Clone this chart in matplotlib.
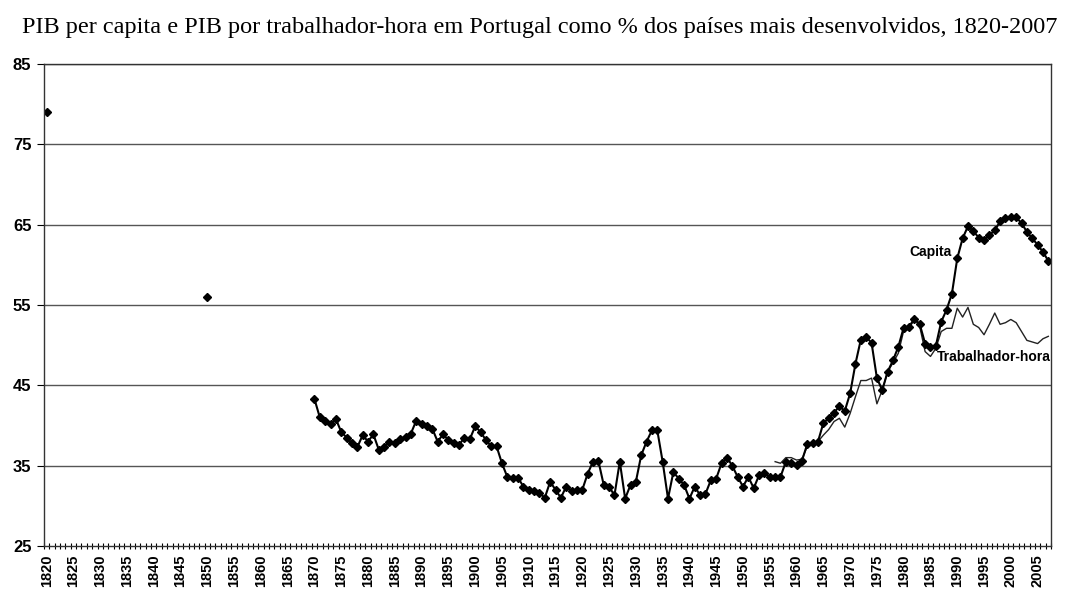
import matplotlib.pyplot as plt
import numpy as np

# anos isolados (pontos soltos no inicio da serie)
anos_isolados = [1820, 1850]
capita_isolados = [79.0, 56.0]

# PIB per capita, 1870-2007 (% dos paises mais desenvolvidos)
capita = [
    43.3, 41.0, 40.5, 40.2, 40.8, 39.2, 38.5, 37.8, 37.3, 38.8,   # 1870
    38.0, 38.9, 37.0, 37.3, 38.0, 37.8, 38.3, 38.6, 39.0, 40.6,   # 1880
    40.2, 40.0, 39.6, 38.0, 38.9, 38.2, 37.8, 37.6, 38.5, 38.3,   # 1890
    39.9, 39.2, 38.2, 37.4, 37.4, 35.3, 33.6, 33.5, 33.5, 32.4,   # 1900
    32.0, 31.9, 31.6, 31.0, 33.0, 32.0, 31.0, 32.4, 31.9, 32.0,   # 1910
    32.0, 34.0, 35.5, 35.6, 32.6, 32.4, 31.3, 35.5, 30.9, 32.6,   # 1920
    33.0, 36.3, 38.0, 39.4, 39.4, 35.5, 30.9, 34.2, 33.4, 32.6,   # 1930
    30.9, 32.4, 31.3, 31.5, 33.2, 33.4, 35.3, 36.0, 35.0, 33.6,   # 1940
    32.4, 33.6, 32.2, 33.8, 34.1, 33.6, 33.6, 33.6, 35.5, 35.3,   # 1950
    35.1, 35.6, 37.7, 37.8, 38.0, 40.3, 40.9, 41.6, 42.4, 41.8,   # 1960
    44.0, 47.7, 50.7, 51.0, 50.3, 45.9, 44.4, 46.7, 48.1, 49.8,   # 1970
    52.2, 52.3, 53.3, 52.6, 50.2, 49.8, 49.9, 52.9, 54.4, 56.4,   # 1980
    60.8, 63.3, 64.8, 64.2, 63.4, 63.1, 63.7, 64.3, 65.4, 65.8,   # 1990
    66.0, 65.9, 65.2, 64.1, 63.3, 62.5, 61.6, 60.5,               # 2000
]

# PIB por trabalhador-hora, 1956-2007
trabalhador = [
    35.5, 35.3, 36.0, 36.0,                                       # 1956
    35.7, 35.8, 37.4, 37.6, 38.0, 38.8, 39.5, 40.5, 40.9, 39.8,   # 1960
    41.5, 43.6, 45.6, 45.6, 45.9, 42.7, 44.4, 46.7, 47.8, 49.0,   # 1970
    51.8, 52.0, 53.3, 52.3, 49.2, 48.6, 49.6, 51.7, 52.1, 52.1,   # 1980
    54.6, 53.5, 54.7, 52.6, 52.2, 51.3, 52.6, 54.0, 52.6, 52.8,   # 1990
    53.2, 52.8, 51.7, 50.6, 50.4, 50.2, 50.8, 51.1,               # 2000
]

anos = np.arange(1820, 2008)
serie_capita = np.full(len(anos), np.nan)
for a, v in zip(anos_isolados, capita_isolados):
    serie_capita[a - 1820] = v
serie_capita[1870 - 1820:] = capita

anos_trab = np.arange(1956, 2008)

fig = plt.figure(figsize=(10.67, 5.89), dpi=100)
ax = fig.add_axes([0.0412, 0.073, 0.9438, 0.8183])

ax.plot(anos_trab, trabalhador, color='#222222', lw=1.0)
ax.plot(anos, serie_capita, color='black', lw=1.5, marker='D', markersize=4.2)

ax.set_xlim(1819.5, 2007.5)
ax.set_ylim(25, 85)
ax.set_yticks(range(25, 86, 10))
for y in range(35, 86, 10):
    ax.axhline(y, color='#555555', lw=1.0, zorder=0)

ax.set_xticks(range(1820, 2006, 5))
ax.set_xticks(np.arange(1819.5, 2008, 1), minor=True)
ax.tick_params(axis='x', which='major', length=0, labelrotation=90, labelsize=10.5, pad=6)
ax.tick_params(axis='x', which='minor', length=4, direction='inout', width=0.8)
ax.tick_params(axis='y', length=5, direction='out', labelsize=12, pad=4)
for lab in ax.get_xticklabels() + ax.get_yticklabels():
    lab.set_fontweight('bold')
    lab.set_fontfamily('Liberation Sans')

for s in ax.spines.values():
    s.set_color('#333333')
    s.set_linewidth(1.0)

ax.text(1989.0, 61.6, 'Capita', ha='right', va='center', fontsize=10,
        fontweight='bold', family='Liberation Sans')
ax.text(1986.2, 48.5, 'Trabalhador-hora', ha='left', va='center', fontsize=10,
        fontweight='bold', family='Liberation Sans')

fig.text(0.5056, 0.954, 'PIB per capita e PIB por trabalhador-hora em Portugal como % dos países mais desenvolvidos, 1820-2007',
         ha='center', va='center', fontsize=17.5, family='Liberation Serif')

fig.savefig('out.png', dpi=100)
